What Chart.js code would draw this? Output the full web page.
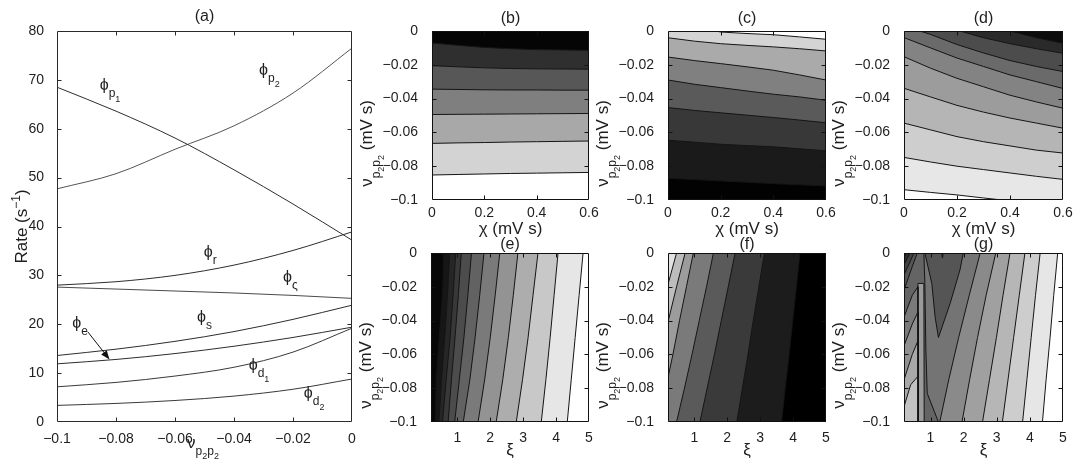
<!DOCTYPE html>
<html>
<head>
<meta charset="utf-8">
<title>Rates and contour maps</title>
<script src="https://cdn.jsdelivr.net/npm/chart.js@4.4.1/dist/chart.umd.min.js"></script>
<style>
  html, body { margin: 0; padding: 0; background: #fff; }
  #fig { position: relative; width: 1085px; height: 468px; overflow: hidden; }
  #fig canvas { position: absolute; }
</style>
</head>
<body>
<div id="fig">
  <canvas id="chartA"></canvas>
  <canvas id="chartB"></canvas>
  <canvas id="chartC"></canvas>
  <canvas id="chartD"></canvas>
  <canvas id="chartE"></canvas>
  <canvas id="chartF"></canvas>
  <canvas id="chartG"></canvas>
</div>
<script>
// ---------- panel (a): rates against nu_p2p2 ----------
const nuX = [-0.1, -0.08, -0.06, -0.04, -0.02, 0];
const phiP1 = [68.5, 63.6, 58.1, 51.6, 44.6, 37.2];
const phiP2 = [47.7, 50.8, 55.8, 60.6, 67.3, 76.5];
const phiR = [28.0, 28.7, 30.0, 32.1, 35.1, 38.9];
const phiZeta = [27.6, 27.2, 26.8, 26.4, 25.9, 25.3];
const phiS = [13.6, 14.9, 16.5, 18.5, 21.0, 23.9];
const phiE = [11.9, 12.8, 14.0, 15.5, 17.3, 19.4];
const phiD1 = [7.2, 8.1, 9.4, 11.2, 14.3, 19.2];
const phiD2 = [3.4, 3.8, 4.4, 5.3, 6.7, 8.8];

const aXTicks = [-0.1, -0.08, -0.06, -0.04, -0.02, 0];
const aYTicks = [0, 10, 20, 30, 40, 50, 60, 70, 80];
const chiTicks = [0, 0.2, 0.4, 0.6];
const nuTicks = [-0.1, -0.08, -0.06, -0.04, -0.02, 0];
const xiTicks = [1, 2, 3, 4, 5];

// ---------- panels (b)-(d): contour lines, nu value at each chi ----------
const chiX = [0, 0.1, 0.2, 0.3, 0.4, 0.5, 0.6];
const bLines = [
  [-0.0071, -0.0085, -0.0097, -0.0105, -0.0110, -0.0112, -0.0114],
  [-0.0205, -0.0212, -0.0218, -0.0222, -0.0224, -0.0225, -0.0226],
  [-0.0344, -0.0346, -0.0348, -0.0349, -0.0349, -0.0350, -0.0350],
  [-0.0494, -0.0493, -0.0492, -0.0491, -0.0490, -0.0489, -0.0488],
  [-0.0665, -0.0662, -0.0660, -0.0657, -0.0655, -0.0653, -0.0651],
  [-0.0852, -0.0849, -0.0846, -0.0843, -0.0841, -0.0839, -0.0837]
];
const cLines = [
  [0.0060, 0.0025, -0.0006, -0.0015, -0.0022, -0.0035, -0.0049],
  [-0.0040, -0.0060, -0.0075, -0.0085, -0.0094, -0.0105, -0.0118],
  [-0.0154, -0.0175, -0.0193, -0.0212, -0.0232, -0.0260, -0.0290],
  [-0.0290, -0.0315, -0.0335, -0.0355, -0.0374, -0.0390, -0.0410],
  [-0.0453, -0.0470, -0.0484, -0.0498, -0.0512, -0.0527, -0.0543],
  [-0.0646, -0.0658, -0.0670, -0.0678, -0.0685, -0.0697, -0.0709],
  [-0.0872, -0.0879, -0.0887, -0.0895, -0.0903, -0.0910, -0.0917]
];
const dLines = [
  [0.0120, 0.0090, 0.0065, 0.0035, 0.0000, -0.0040, -0.0073],
  [0.0090, 0.0050, 0.0005, -0.0040, -0.0075, -0.0105, -0.0132],
  [0.0030, -0.0020, -0.0080, -0.0130, -0.0175, -0.0210, -0.0240],
  [-0.0039, -0.0100, -0.0160, -0.0210, -0.0260, -0.0300, -0.0340],
  [-0.0152, -0.0220, -0.0280, -0.0330, -0.0380, -0.0420, -0.0457],
  [-0.0339, -0.0390, -0.0440, -0.0480, -0.0515, -0.0545, -0.0575],
  [-0.0545, -0.0585, -0.0625, -0.0655, -0.0680, -0.0705, -0.0722],
  [-0.0748, -0.0775, -0.0800, -0.0820, -0.0840, -0.0860, -0.0878],
  [-0.0939, -0.0955, -0.0970, -0.0988, -0.1005, -0.1020, -0.1040]
];

// ---------- panels (e)-(g): contour lines, xi value at each nu ----------
const eY = [-0.1, -0.075, -0.05, -0.025, 0];
const eLines = [
  [0.34, 0.36, 0.45, 0.55, 0.59],
  [0.44, 0.52, 0.62, 0.70, 0.77],
  [0.55, 0.66, 0.78, 0.87, 0.95],
  [0.72, 0.82, 0.93, 1.03, 1.12],
  [0.92, 1.06, 1.20, 1.32, 1.43],
  [1.18, 1.38, 1.54, 1.68, 1.81],
  [1.63, 1.83, 2.00, 2.15, 2.29],
  [2.18, 2.38, 2.55, 2.70, 2.84],
  [2.79, 2.98, 3.15, 3.30, 3.45],
  [3.55, 3.69, 3.82, 3.94, 4.06],
  [4.34, 4.46, 4.58, 4.70, 4.82]
];
const fY = [-0.1, -0.08, -0.06, -0.04, -0.02, 0];
const fLines = [
  [-0.70, -0.50, -0.30, -0.05, 0.18, 0.46],
  [-0.50, -0.30, -0.05, 0.21, 0.46, 0.72],
  [-0.05, 0.13, 0.35, 0.55, 0.76, 0.97],
  [0.46, 0.70, 0.93, 1.15, 1.37, 1.58],
  [1.17, 1.39, 1.61, 1.82, 2.03, 2.24],
  [2.29, 2.46, 2.63, 2.79, 2.96, 3.13],
  [3.65, 3.76, 3.88, 3.99, 4.10, 4.21]
];
const gY = [-0.1, -0.075, -0.05, -0.025, 0];
const gLines = [
  [1.28, 1.55, 1.85, 2.17, 2.50],
  [1.95, 2.18, 2.42, 2.68, 2.97],
  [2.57, 2.78, 2.99, 3.19, 3.40],
  [3.17, 3.34, 3.51, 3.68, 3.85],
  [3.78, 3.91, 4.04, 4.17, 4.31],
  [4.38, 4.49, 4.61, 4.72, 4.84]
];
const gTongue = [[0.80, 0.01], [0.83, 0], [1.04, -0.018], [1.14, -0.038], [1.24, -0.05], [1.59, -0.03], [1.89, -0.01], [1.99, 0], [2.0, 0.01]];
const gNotch = [[1.30, 0.004], [1.36, -0.003], [1.42, 0.004]];
const gStrip = [[0.78, 0.01], [0.80, 0], [0.83, -0.018], [0.86, -0.057], [0.90, -0.083], [1.24, -0.1], [1.24, -0.11], [-1, -0.11], [-1, 0.01]];
const gSpike = [[0.62, -0.11], [0.62, -0.018], [0.80, -0.018], [0.81, -0.11]];
// top-left wedges, largest first
const gWedges = [
  [[-1, 0.01], [-1, -0.022], [0.2, -0.022], [0.45, -0.008], [0.60, 0], [0.61, 0.01]],
  [[-1, 0.01], [-1, -0.013], [0.2, -0.013], [0.50, 0], [0.51, 0.01]],
  [[-1, 0.01], [-1, -0.007], [0.2, -0.007], [0.38, 0], [0.39, 0.01]],
  [[-1, 0.01], [-1, -0.003], [0.2, -0.003], [0.27, 0], [0.28, 0.01]]
];
// bottom-left ridges, largest first
const gRidges = [
  [[-1, -0.038], [0.2, -0.038], [0.45, -0.025], [0.62, -0.020], [0.62, -0.11], [-1, -0.11]],
  [[-1, -0.055], [0.2, -0.055], [0.45, -0.042], [0.62, -0.035], [0.62, -0.11], [-1, -0.11]],
  [[-1, -0.075], [0.2, -0.075], [0.45, -0.060], [0.62, -0.052], [0.62, -0.11], [-1, -0.11]],
  [[-1, -0.091], [0.2, -0.091], [0.40, -0.078], [0.62, -0.073], [0.62, -0.11], [-1, -0.11]]
];

// ---------- styles ----------
const FONT = '"Liberation Sans", Arial, Helvetica, sans-serif';
const INK = '#1e1e1e';
const LINE = '#151515';
const aColors = ['#2e2e2e', '#555555', '#2e2e2e', '#4a4a4a', '#2e2e2e', '#2e2e2e', '#3a3a3a', '#3a3a3a'];
const bFill = ['#050505', '#2f2f2f', '#575757', '#7f7f7f', '#a8a8a8', '#d3d3d3'];
const cFill = ['#fefefe', '#d4d4d4', '#aaaaaa', '#808080', '#5a5a5a', '#383838', '#1a1a1a'];
const dFill = ['#0c0c0c', '#2a2a2a', '#4c4c4c', '#6a6a6a', '#838383', '#9c9c9c', '#b5b5b5', '#cecece', '#e7e7e7'];
const eFill = ['#070707', '#161616', '#262626', '#383838', '#4c4c4c', '#626262', '#7a7a7a', '#939393', '#adadad', '#c8c8c8', '#e6e6e6'];
const fFill = ['#e2e2e2', '#bdbdbd', '#9c9c9c', '#7a7a7a', '#5a5a5a', '#3a3a3a', '#1c1c1c'];
const gFill = ['#747474', '#8a8a8a', '#a0a0a0', '#b6b6b6', '#cdcdcd', '#e6e6e6'];
const gWedgeFill = ['#545454', '#424242', '#2e2e2e', '#161616'];
const gRidgeFill = ['#7a7a7a', '#909090', '#a8a8a8', '#c2c2c2'];

const phiLabels = [
  {x: -0.084, y: 69.0, sub: 'p', sub2: '1'},
  {x: -0.030, y: 72.0, sub: 'p', sub2: '2'},
  {x: -0.0487, y: 34.8, sub: 'r'},
  {x: -0.0219, y: 29.7, sub: 'ς'},
  {x: -0.051, y: 21.4, sub: 's'},
  {x: -0.0933, y: 20.2, sub: 'e'},
  {x: -0.0335, y: 11.7, sub: 'd', sub2: '1'},
  {x: -0.0148, y: 5.9, sub: 'd', sub2: '2'}
];
const phiArrow = {from: [-0.0895, 18.4], to: [-0.0822, 12.8]};

// ---------- helpers ----------
function toPts(xs, ys) { return xs.map((x, i) => ({x: x, y: ys[i]})); }
function polyPts(p) { return p.map(q => ({x: q[0], y: q[1]})); }
function fmt(v) { return v === 0 ? '0' : String(v).replace('-', '\u2212'); }

function axis(min, max, ticks, size, padding) {
  return {
    type: 'linear', min: min, max: max,
    afterBuildTicks: s => { s.ticks = ticks.map(v => ({value: v})); },
    afterFit: s => { if (s.isHorizontal()) s.height = size; else s.width = size; },
    grid: {display: false},
    border: {display: false},
    ticks: {
      autoSkip: false, maxRotation: 0, padding: padding,
      color: INK, font: {family: FONT, size: 14},
      callback: v => fmt(v)
    }
  };
}

// parts: [text, size, dy]
function rich(ctx, x, y, parts, opt) {
  opt = opt || {};
  ctx.save();
  ctx.translate(x, y);
  if (opt.rotate) ctx.rotate(-Math.PI / 2);
  ctx.textAlign = 'left';
  ctx.textBaseline = 'alphabetic';
  ctx.fillStyle = opt.color || INK;
  let w = 0;
  parts.forEach(p => { ctx.font = p[1] + 'px ' + FONT; w += ctx.measureText(p[0]).width; });
  let cx = opt.align === 'left' ? 0 : -w / 2;
  parts.forEach(p => {
    ctx.font = p[1] + 'px ' + FONT;
    ctx.fillText(p[0], cx, p[2] || 0);
    cx += ctx.measureText(p[0]).width;
  });
  ctx.restore();
}

const NU_LABEL = [['ν', 17], ['p', 12, 8], ['2', 9, 12], ['p', 12, 8], ['2', 9, 12], [' (mV s)', 17]];

function decor(opt) {
  return {
    id: 'decor',
    beforeDraw(chart) {
      const a = chart.chartArea, ctx = chart.ctx;
      ctx.save();
      ctx.fillStyle = opt.bg || '#ffffff';
      ctx.fillRect(a.left, a.top, a.right - a.left, a.bottom - a.top);
      ctx.restore();
    },
    afterDraw(chart) {
      const a = chart.chartArea, ctx = chart.ctx;
      const sx = chart.scales.x, sy = chart.scales.y;
      const L = Math.round(a.left) + 0.5, R = Math.round(a.right) - 0.5;
      const T = Math.round(a.top) + 0.5, B = Math.round(a.bottom) - 0.5;
      const tl = 4;
      ctx.save();
      ctx.strokeStyle = opt.frame || '#111111';
      ctx.lineWidth = 1;
      ctx.beginPath();
      sx.ticks.forEach(t => {
        const p = Math.round(sx.getPixelForValue(t.value)) + 0.5;
        if (p < L + 2 || p > R - 2) return;
        ctx.moveTo(p, B); ctx.lineTo(p, B - tl);
        ctx.moveTo(p, T); ctx.lineTo(p, T + tl);
      });
      sy.ticks.forEach(t => {
        const p = Math.round(sy.getPixelForValue(t.value)) + 0.5;
        if (p < T + 2 || p > B - 2) return;
        ctx.moveTo(L, p); ctx.lineTo(L + tl, p);
        ctx.moveTo(R, p); ctx.lineTo(R - tl, p);
      });
      ctx.rect(L, T, R - L, B - T);
      ctx.stroke();
      if (opt.text) opt.text(ctx, a, chart);
      ctx.restore();
    }
  };
}

// box: [left, top, width, height] of the plot area; pad: [left, top, right, bottom]
function panel(id, box, pad, cfg) {
  const cv = document.getElementById(id);
  cv.width = pad[0] + box[2] + pad[2];
  cv.height = pad[1] + box[3] + pad[3];
  cv.style.left = (box[0] - pad[0]) + 'px';
  cv.style.top = (box[1] - pad[1]) + 'px';
  return new Chart(cv, {
    type: 'line',
    data: {datasets: cfg.datasets},
    options: {
      responsive: false, animation: false, devicePixelRatio: 1, events: [],
      indexAxis: cfg.indexAxis || 'x',
      layout: {padding: {left: 0, top: pad[1], right: pad[2], bottom: 0}},
      plugins: {legend: {display: false}, tooltip: {enabled: false}},
      elements: {point: {radius: 0}},
      scales: {
        x: axis(cfg.x[0], cfg.x[1], cfg.x[2], pad[3], cfg.x[3]),
        y: axis(cfg.y[0], cfg.y[1], cfg.y[2], pad[0], cfg.y[3])
      }
    },
    plugins: [decor(cfg.decor)]
  });
}

// horizontal bands: each line paints the band above it (first line ends up on top)
function bandsAbove(xs, lines, colors) {
  return lines.map((ln, i) => ({
    data: toPts(xs, ln),
    borderColor: LINE, borderWidth: 1, tension: 0,
    backgroundColor: colors[i],
    fill: {value: 1}
  }));
}

function shape(points, color) {
  return {
    data: polyPts(points),
    borderColor: LINE, borderWidth: 1, tension: 0,
    backgroundColor: color,
    fill: 'shape'
  };
}

// vertical bands: each line paints everything on its left
function bandsLeft(ys, lines, colors) {
  return lines.map((ln, i) => {
    const pts = toPts(ln, ys);
    pts.push({x: -5, y: ys[ys.length - 1] + 0.02}, {x: -5, y: ys[0] - 0.02});
    return {
      data: pts,
      borderColor: LINE, borderWidth: 1, tension: 0,
      backgroundColor: colors[i],
      fill: 'shape'
    };
  });
}

function topText(title, xlab) {
  return (ctx, a) => {
    const cx = (a.left + a.right) / 2;
    rich(ctx, cx, a.top - 8, [[title, 16]]);
    rich(ctx, a.left - 60, (a.top + a.bottom) / 2 + 28, NU_LABEL, {rotate: true});
    rich(ctx, cx, a.bottom + 34, xlab);
  };
}
function bottomText(title) {
  return (ctx, a) => {
    const cx = (a.left + a.right) / 2;
    rich(ctx, cx, a.top - 4, [[title, 16]]);
    rich(ctx, a.left - 60, (a.top + a.bottom) / 2 + 28, NU_LABEL, {rotate: true});
    rich(ctx, cx, a.bottom + 33, [['ξ', 17]]);
  };
}
const CHI_LABEL = [['χ (mV s)', 17]];

// ---------- panel (a) ----------
const aSeries = [phiP1, phiP2, phiR, phiZeta, phiS, phiE, phiD1, phiD2];
panel('chartA', [57, 31, 295, 391], [57, 31, 8, 46], {
  datasets: aSeries.map((s, i) => ({
    data: toPts(nuX, s),
    borderColor: aColors[i], borderWidth: 1, fill: false,
    cubicInterpolationMode: 'monotone'
  })),
  x: [-0.1, 0, aXTicks, 1],
  y: [0, 80, aYTicks, 5],
  decor: {
    frame: '#2a2a2a',
    text: (ctx, a, chart) => {
      const sx = chart.scales.x, sy = chart.scales.y;
      rich(ctx, (a.left + a.right) / 2, 21, [['(a)', 16]]);
      rich(ctx, 27, (a.top + a.bottom) / 2, [['Rate (s', 17], ['\u22121', 12, -7], [')', 17]], {rotate: true});
      rich(ctx, 203, 448, [['ν', 17], ['p', 12, 7], ['2', 9, 11], ['p', 12, 7], ['2', 9, 11]]);
      phiLabels.forEach(l => {
        const px = sx.getPixelForValue(l.x), py = sy.getPixelForValue(l.y);
        ctx.font = '16px ' + FONT;
        const w = ctx.measureText('ϕ').width;
        const parts = [['ϕ', 16], [l.sub, 12, 7]];
        if (l.sub2) parts.push([l.sub2, 9, 12]);
        rich(ctx, px - w / 2, py + 5, parts, {align: 'left'});
      });
      const x1 = sx.getPixelForValue(phiArrow.from[0]), y1 = sy.getPixelForValue(phiArrow.from[1]);
      const x2 = sx.getPixelForValue(phiArrow.to[0]), y2 = sy.getPixelForValue(phiArrow.to[1]);
      const ang = Math.atan2(y2 - y1, x2 - x1);
      ctx.strokeStyle = '#111'; ctx.fillStyle = '#111'; ctx.lineWidth = 1;
      ctx.beginPath(); ctx.moveTo(x1, y1); ctx.lineTo(x2 - 6 * Math.cos(ang), y2 - 6 * Math.sin(ang)); ctx.stroke();
      ctx.beginPath();
      ctx.moveTo(x2, y2);
      ctx.lineTo(x2 - 9 * Math.cos(ang) + 3.5 * Math.sin(ang), y2 - 9 * Math.sin(ang) - 3.5 * Math.cos(ang));
      ctx.lineTo(x2 - 9 * Math.cos(ang) - 3.5 * Math.sin(ang), y2 - 9 * Math.sin(ang) + 3.5 * Math.cos(ang));
      ctx.closePath(); ctx.fill();
    }
  }
});

// ---------- panels (b), (c), (d) ----------
panel('chartB', [432, 31, 157, 169], [76, 31, 14, 40], {
  datasets: bandsAbove(chiX, bLines, bFill),
  x: [0, 0.6, chiTicks, -3], y: [-0.1, 0, nuTicks, 6],
  decor: {bg: '#ffffff', text: topText('(b)', CHI_LABEL)}
});
panel('chartC', [668, 31, 158, 169], [76, 31, 14, 40], {
  datasets: bandsAbove(chiX, cLines, cFill),
  x: [0, 0.6, chiTicks, -3], y: [-0.1, 0, nuTicks, 6],
  decor: {bg: '#020202', text: topText('(c)', CHI_LABEL)}
});
panel('chartD', [904, 31, 159, 169], [76, 31, 22, 40], {
  datasets: bandsAbove(chiX, dLines, dFill),
  x: [0, 0.6, chiTicks, -3], y: [-0.1, 0, nuTicks, 6],
  decor: {bg: '#fdfdfd', text: topText('(d)', CHI_LABEL)}
});

// ---------- panels (e), (f), (g) ----------
panel('chartE', [431, 253, 158, 169], [76, 26, 14, 46], {
  indexAxis: 'y',
  datasets: bandsLeft(eY, eLines, eFill),
  x: [0.2, 5, xiTicks, 0], y: [-0.1, 0, nuTicks, 6],
  decor: {bg: '#ffffff', text: bottomText('(e)')}
});
panel('chartF', [668, 253, 158, 169], [76, 26, 14, 46], {
  indexAxis: 'y',
  datasets: bandsLeft(fY, fLines, fFill),
  x: [0.2, 5, xiTicks, 0], y: [-0.1, 0, nuTicks, 6],
  decor: {bg: '#000000', text: bottomText('(f)')}
});

// panel (g): dataset 0 is painted last, so the list runs from the top layer down
const gSets = [];
for (let i = gWedges.length - 1; i >= 0; i--) gSets.push(shape(gWedges[i], gWedgeFill[i]));
for (let i = gRidges.length - 1; i >= 0; i--) gSets.push(shape(gRidges[i], gRidgeFill[i]));
gSets.push(shape(gSpike, '#9a9a9a'));
gSets.push(shape(gNotch, '#444444'));
gSets.push(shape(gTongue, '#555555'));
gSets.push(shape(gStrip, '#646464'));
bandsLeft(gY, gLines, gFill).forEach(d => gSets.push(d));

panel('chartG', [904, 253, 159, 169], [76, 26, 22, 46], {
  indexAxis: 'y',
  datasets: gSets,
  x: [0.2, 5, xiTicks, 0], y: [-0.1, 0, nuTicks, 6],
  decor: {bg: '#ffffff', text: bottomText('(g)')}
});
</script>
</body>
</html>
